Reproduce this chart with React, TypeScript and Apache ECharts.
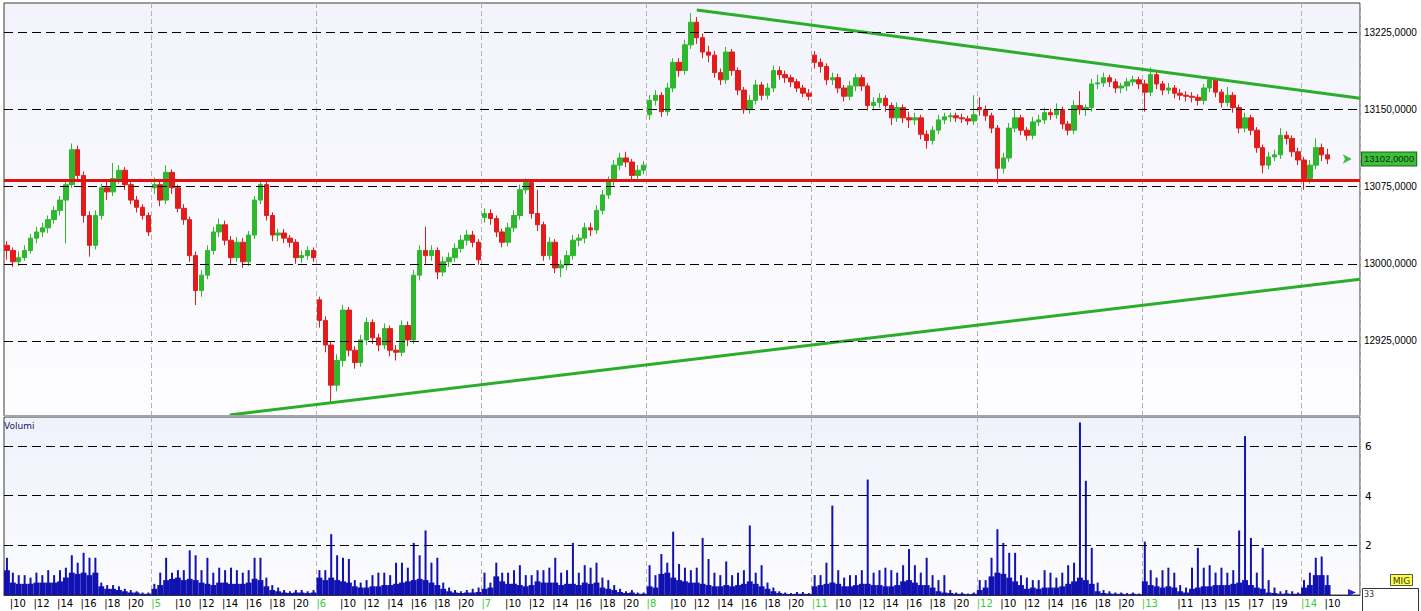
import React, { useEffect, useRef } from 'react';
import * as echarts from 'echarts';

const FONT = '"DejaVu Sans", Verdana, sans-serif';
const AXIS_FONT = '"Liberation Sans", Arial, sans-serif';

// Trading sessions (half-hour slots)
const SESSION_DAYS = ['4', '5', '6', '7', '8', '11', '12', '13', '14'];
const SESSION_FIRST_HOUR = [9.5, 8, 8, 8, 8, 8, 8, 8, 8];
const SESSION_SLOTS = [25, 28, 28, 28, 28, 28, 28, 27, 10];
const SESSION_HOUR_LABELS = [
  [10, 12, 14, 16, 18, 20],
  [10, 12, 14, 16, 18, 20],
  [10, 12, 14, 16, 18, 20],
  [10, 12, 14, 16, 18, 20],
  [10, 12, 14, 16, 18, 20],
  [10, 12, 14, 16, 18, 20],
  [10, 12, 14, 16, 18, 20],
  [11, 13, 15, 17, 19],
  [10],
];

const PRICE_TICKS = [12925, 13000, 13075, 13150, 13225];
const VOLUME_TICKS = [2, 4, 6];
const SUPPORT_LEVEL = 13081;
const LAST_PRICE = 13102;
const LAST_PRICE_LABEL = '13102,0000';
// trend lines: [slot position, price]
const UPPER_TREND = [[117, 13247], [229.5, 13161]];
const LOWER_TREND = [[37.8, 12853], [229.5, 12985]];

// candles: [open, close, low, high]
const candlesDay4 = [
  [13018,13013,13004,13022],[13013,13002,12997,13016],[13002,13006,12998,13012],[13006,13013,13003,13018],
  [13013,13025,13010,13029],[13025,13031,13020,13036],[13031,13035,13026,13040],[13035,13043,13030,13047],
  [13043,13052,13039,13056],[13052,13062,13047,13066],[13062,13077,13020,13081],[13077,13111,13074,13117],
  [13111,13086,13080,13115],[13086,13047,13040,13090],[13047,13018,13007,13051],[13018,13047,13014,13052],
  [13047,13074,13043,13078],[13074,13070,13062,13080],[13070,13083,13066,13098],[13083,13091,13078,13096],
  [13091,13077,13072,13094],[13077,13062,13058,13080],[13062,13055,13050,13066],[13055,13047,13043,13058],
  [13047,13031,13027,13050],
];
const candlesDay5 = [
  [13074,13077,13068,13084],[13077,13062,13056,13081],[13062,13089,13058,13096],[13089,13074,13068,13092],
  [13074,13054,13050,13077],[13054,13043,13038,13058],[13043,13008,13002,13046],[13008,12974,12960,13012],
  [12974,12989,12968,12994],[12989,13013,12985,13018],[13013,13031,13009,13036],[13031,13038,13026,13044],
  [13038,13023,13018,13042],[13023,13006,13000,13027],[13006,13021,13002,13026],[13021,13002,12996,13025],
  [13002,13028,12998,13032],[13028,13062,13024,13066],[13062,13077,13058,13082],[13077,13047,13042,13080],
  [13047,13028,13022,13050],[13028,13030,13022,13034],[13030,13025,13020,13034],[13025,13021,13016,13028],
  [13021,13006,13000,13024],[13006,13008,13001,13013],[13008,13013,13004,13017],[13013,13006,13002,13016],
];
const candlesDay6 = [
  [12965,12945,12938,12968],[12945,12921,12914,12949],[12921,12882,12865,12925],[12882,12906,12876,12912],
  [12906,12955,12900,12960],[12955,12916,12910,12958],[12916,12904,12898,12920],[12904,12926,12900,12931],
  [12926,12943,12921,12948],[12943,12928,12922,12946],[12928,12921,12915,12932],[12921,12937,12917,12942],
  [12937,12916,12910,12940],[12916,12914,12906,12921],[12914,12940,12910,12945],[12940,12926,12920,12944],
  [12926,12989,12922,12994],[12989,13013,12984,13018],[13013,13008,13000,13036],[13008,13013,13003,13018],
  [13013,12992,12985,13016],[12992,13002,12988,13007],[13002,13006,12997,13011],[13006,13015,13002,13020],
  [13015,13023,13011,13028],[13023,13028,13018,13033],[13028,13021,13016,13032],[13021,13004,12999,13024],
];
const candlesDay7 = [
  [13045,13049,13040,13054],[13049,13044,13038,13053],[13044,13031,13026,13047],[13031,13021,13016,13034],
  [13021,13035,13017,13040],[13035,13047,13031,13052],[13047,13072,13043,13077],[13072,13079,13068,13083],
  [13079,13049,13044,13082],[13049,13038,13032,13072],[13038,13008,13003,13041],[13008,13021,13004,13026],
  [13021,12996,12991,13024],[12996,12999,12987,13004],[12999,13008,12994,13013],[13008,13023,13004,13028],
  [13023,13025,13017,13029],[13025,13035,13020,13040],[13035,13033,13027,13040],[13033,13052,13029,13057],
  [13052,13067,13048,13072],[13067,13080,13063,13085],[13080,13096,13076,13101],[13096,13103,13091,13108],
  [13103,13099,13094,13109],[13099,13086,13081,13102],[13086,13091,13082,13096],[13091,13096,13087,13100],
];
const candlesDay8 = [
  [13145,13159,13140,13164],[13159,13164,13154,13169],[13164,13148,13143,13167],[13148,13171,13144,13176],
  [13171,13196,13167,13200],[13196,13188,13182,13200],[13188,13213,13184,13218],[13213,13235,13209,13244],
  [13235,13220,13214,13240],[13220,13206,13200,13224],[13206,13203,13196,13212],[13203,13186,13181,13207],
  [13186,13179,13174,13190],[13179,13206,13175,13211],[13206,13188,13183,13209],[13188,13169,13164,13191],
  [13169,13150,13146,13172],[13150,13159,13146,13164],[13159,13174,13155,13179],[13174,13164,13159,13177],
  [13164,13171,13160,13176],[13171,13188,13167,13193],[13188,13184,13179,13192],[13184,13181,13176,13188],
  [13181,13177,13172,13184],[13177,13171,13167,13180],[13171,13166,13162,13174],[13166,13163,13159,13170],
];
const candlesDay11 = [
  [13203,13196,13190,13207],[13196,13192,13186,13200],[13192,13179,13174,13195],[13179,13181,13174,13186],
  [13181,13171,13166,13185],[13171,13163,13158,13174],[13163,13173,13159,13178],[13173,13181,13168,13185],
  [13181,13173,13168,13184],[13173,13154,13149,13176],[13154,13157,13149,13162],[13157,13161,13152,13166],
  [13161,13154,13148,13164],[13154,13142,13135,13157],[13142,13152,13138,13157],[13152,13142,13137,13155],
  [13142,13140,13132,13148],[13140,13142,13135,13147],[13142,13126,13121,13145],[13126,13120,13112,13130],
  [13120,13130,13116,13134],[13130,13140,13126,13145],[13140,13143,13136,13147],[13143,13144,13138,13147],
  [13144,13142,13138,13147],[13142,13141,13137,13146],[13141,13139,13135,13144],[13139,13145,13135,13164],
];
const candlesDay12 = [
  [13152,13150,13144,13162],[13150,13144,13139,13154],[13144,13132,13127,13147],[13132,13093,13078,13135],
  [13093,13103,13088,13108],[13103,13132,13099,13137],[13132,13142,13128,13151],[13142,13130,13125,13145],
  [13130,13125,13120,13133],[13125,13138,13121,13143],[13138,13140,13134,13145],[13140,13147,13136,13152],
  [13147,13145,13140,13151],[13145,13150,13141,13156],[13150,13136,13131,13153],[13136,13130,13125,13139],
  [13130,13154,13126,13159],[13154,13150,13145,13168],[13150,13152,13144,13155],[13152,13175,13148,13180],
  [13175,13176,13170,13184],[13176,13181,13172,13186],[13181,13177,13172,13184],[13177,13171,13166,13180],
  [13171,13173,13166,13176],[13173,13177,13168,13181],[13177,13179,13173,13183],[13179,13175,13170,13182],
];
const candlesDay13 = [
  [13175,13167,13148,13179],[13167,13184,13163,13191],[13184,13175,13170,13187],[13175,13169,13164,13178],
  [13169,13171,13165,13176],[13171,13166,13161,13174],[13166,13164,13159,13170],[13164,13163,13158,13168],
  [13163,13162,13157,13167],[13162,13159,13154,13165],[13159,13171,13155,13175],[13171,13179,13167,13182],
  [13179,13167,13162,13181],[13167,13157,13152,13170],[13157,13164,13153,13172],[13164,13152,13147,13167],
  [13152,13132,13127,13155],[13132,13142,13128,13147],[13142,13130,13125,13145],[13130,13113,13108,13133],
  [13113,13096,13088,13116],[13096,13104,13092,13109],[13104,13106,13100,13111],[13106,13125,13102,13132],
  [13125,13122,13116,13129],[13122,13109,13104,13125],[13109,13101,13096,13113],
];
const candlesDay14 = [
  [13101,13083,13072,13104],[13083,13096,13078,13101],[13096,13113,13092,13122],[13113,13106,13100,13117],
  [13106,13102,13097,13112],
];

// volume per slot: typical level and peak spike
const volumeBase = [
  1.0,0.5,0.45,0.45,0.45,0.5,0.5,0.5,0.5,0.55,0.7,0.9,0.85,0.9,0.8,0.9,0.35,0.25,0.25,0.2,0.15,0.1,0.1,0.05,0.05,
  0.25,0.4,0.6,0.65,0.7,0.6,0.65,0.6,0.5,0.45,0.4,0.5,0.5,0.45,0.45,0.45,0.5,0.65,0.6,0.35,0.2,0.15,0.1,0.08,0.1,0.1,0.08,0.1,
  0.7,0.6,0.7,0.6,0.55,0.5,0.35,0.3,0.3,0.35,0.35,0.4,0.4,0.45,0.5,0.55,0.6,0.65,0.6,0.5,0.4,0.25,0.15,0.1,0.08,0.1,0.1,0.12,
  0.25,0.3,0.75,0.55,0.45,0.45,0.4,0.35,0.4,0.55,0.5,0.5,0.5,0.4,0.45,0.45,0.4,0.5,0.45,0.5,0.3,0.25,0.2,0.12,0.08,0.1,0.05,0.05,
  0.35,0.3,0.85,0.9,0.7,0.6,0.55,0.5,0.5,0.45,0.4,0.35,0.35,0.4,0.35,0.4,0.45,0.55,0.45,0.35,0.25,0.15,0.08,0.05,0.04,0.05,0.05,0.04,
  0.35,0.4,0.45,0.5,0.45,0.35,0.35,0.4,0.45,0.45,0.4,0.4,0.35,0.35,0.4,0.55,0.6,0.5,0.4,0.4,0.3,0.15,0.1,0.08,0.05,0.05,0.03,0.05,
  0.2,0.3,0.75,0.9,0.85,0.7,0.55,0.4,0.25,0.3,0.25,0.3,0.3,0.3,0.35,0.45,0.55,0.7,0.6,0.45,0.15,0.08,0.06,0.05,0.05,0.03,0.05,0.03,
  0.55,0.4,0.35,0.3,0.35,0.3,0.15,0.1,0.25,0.3,0.35,0.35,0.4,0.4,0.4,0.45,0.5,0.6,0.4,0.3,0.25,0.1,0.08,0.05,0.06,0.05,0.05,
  0.3,0.4,0.8,0.8,0.4,
];
const volumePeak = [
  1.5,0.9,0.8,0.8,0.7,0.9,0.8,1.0,0.8,1.0,1.1,1.6,1.3,1.7,1.5,1.5,0.5,0.4,0.4,0.35,0.25,0.2,0.15,0.1,0.1,
  0.45,0.9,1.5,0.9,1.0,1.0,1.8,1.6,1.0,1.5,0.9,1.1,1.0,1.1,1.0,0.9,1.0,1.5,1.5,0.7,0.4,0.3,0.2,0.15,0.2,0.2,0.15,0.2,
  1.0,1.0,2.45,1.6,1.5,1.45,0.6,0.5,0.6,0.8,0.9,0.9,0.8,1.3,1.3,1.1,2.1,1.6,2.6,1.3,1.5,0.5,0.3,0.2,0.15,0.2,0.25,0.3,
  0.9,0.5,1.3,0.9,0.9,1.0,1.2,0.8,0.8,1.0,1.0,1.1,1.5,0.9,1.0,2.1,0.9,1.2,1.1,1.3,0.7,0.6,0.4,0.25,0.15,0.2,0.1,0.1,
  1.2,0.8,1.65,1.3,2.55,1.25,1.1,1.0,1.1,2.3,1.45,0.9,0.8,1.35,0.8,0.9,1.0,2.8,0.9,1.2,0.5,0.3,0.15,0.1,0.08,0.12,0.12,0.08,
  0.8,0.8,1.3,3.6,1.0,0.7,0.8,0.8,1.0,4.65,0.9,1.0,1.1,1.0,0.9,1.2,1.85,1.2,0.9,1.5,0.8,0.6,0.8,0.2,0.1,0.1,0.06,0.1,
  0.6,0.6,1.5,2.65,2.1,1.7,1.7,0.8,0.7,0.6,0.6,1.0,0.9,0.7,0.9,1.2,1.3,6.95,4.6,1.9,0.5,0.2,0.15,0.1,0.1,0.08,0.1,0.06,
  2.15,1.0,0.7,1.0,1.1,0.9,0.4,0.3,1.1,1.9,1.1,1.2,0.9,1.1,0.9,1.0,2.6,6.4,2.3,0.9,1.9,0.6,0.3,0.15,0.2,0.15,0.1,
  0.6,0.9,1.5,1.55,0.8,
];

const candles = [
  ...candlesDay4, ...candlesDay5, ...candlesDay6, ...candlesDay7, ...candlesDay8,
  ...candlesDay11, ...candlesDay12, ...candlesDay13, ...candlesDay14,
];

function buildAxisCategories() {
  const categories: string[] = [];
  const labels: string[] = [];
  const dayStarts = new Set<number>();
  SESSION_DAYS.forEach((day, di) => {
    const start = categories.length;
    if (di > 0) dayStarts.add(start);
    for (let k = 0; k < SESSION_SLOTS[di]; k++) {
      const h = SESSION_FIRST_HOUR[di] + k * 0.5;
      const hh = Math.floor(h);
      const half = h - hh > 0;
      categories.push(`${day} ${hh}:${half ? '30' : '00'}`);
      let lab = '';
      if (k === 0 && di > 0) lab = `{d||${day}}`;
      else if (!half && SESSION_HOUR_LABELS[di].includes(hh)) lab = `{h||${hh}}`;
      labels.push(lab);
    }
  });
  return { categories, labels, dayStarts };
}

function buildOption() {
  const { categories, labels, dayStarts } = buildAxisCategories();
  const N = categories.length;
  const daySplit = {
    show: true,
    interval: (i: number) => dayStarts.has(i),
    lineStyle: { color: '#B4B4B8', type: [5, 3], width: 1 },
  };
  const bgPrice = new echarts.graphic.LinearGradient(0, 0, 0, 1, [
    { offset: 0, color: '#F3F3FC' },
    { offset: 1, color: '#FDFDFF' },
  ]);
  const bgVol = new echarts.graphic.LinearGradient(0, 0, 0, 1, [
    { offset: 0, color: '#EFF2FB' },
    { offset: 1, color: '#FCFCFF' },
  ]);
  const dash = { color: '#000', type: [9, 5] as number[], width: 1 };

  return {
    animation: false,
    backgroundColor: '#FFFFFF',
    grid: [
      { left: 4, top: 3, width: 1356, height: 413, show: true, borderColor: '#3A3A3A', borderWidth: 1, backgroundColor: bgPrice, outerBoundsMode: 'none' },
      { left: 4, top: 417, width: 1356, height: 178, show: true, borderColor: '#3A3A3A', borderWidth: 1, backgroundColor: bgVol, outerBoundsMode: 'none' },
    ],
    xAxis: [
      {
        type: 'category', gridIndex: 0, data: categories, boundaryGap: true,
        axisLine: { show: false }, axisTick: { show: false }, axisLabel: { show: false },
        splitLine: daySplit,
      },
      {
        type: 'category', gridIndex: 1, data: categories, boundaryGap: true,
        axisLine: { show: true, lineStyle: { color: '#333', width: 1 } },
        axisTick: { show: false },
        axisLabel: {
          show: true,
          interval: (i: number) => labels[i] !== '',
          formatter: (_v: string, i: number) => labels[i],
          align: 'left',
          margin: 3,
          padding: [0, 0, 0, -3],
          rich: {
            d: { color: '#3CC83C', fontSize: 10, fontFamily: FONT },
            h: { color: '#000000', fontSize: 10, fontFamily: FONT },
          },
        },
        splitLine: daySplit,
      },
      { type: 'value', gridIndex: 0, min: -0.5, max: N - 0.5, show: false },
      { type: 'category', gridIndex: 1, data: categories, boundaryGap: true, show: false },
    ],
    yAxis: [
      { type: 'value', gridIndex: 0, min: 12852, max: 13253.7, show: false, scale: true },
      { type: 'value', gridIndex: 1, min: 0, max: 7.17, show: false },
    ],
    series: [
      {
        type: 'candlestick',
        xAxisIndex: 0, yAxisIndex: 0,
        data: candles,
        barWidth: 5,
        itemStyle: {
          color: '#2DB82D', color0: '#E41B1B',
          borderColor: '#2DB82D', borderColor0: '#E41B1B', borderWidth: 1,
        },
        markLine: {
          silent: true, symbol: 'none', animation: false,
          data: [
            ...PRICE_TICKS.map((v) => ({
              yAxis: v,
              lineStyle: dash,
              label: { show: true, position: 'end', distance: 4, formatter: `${v},0000`, color: '#000', fontSize: 10, fontFamily: AXIS_FONT },
            })),
            {
              yAxis: SUPPORT_LEVEL,
              lineStyle: { color: '#E01414', width: 3, type: 'solid' },
              label: { show: false },
            },
            {
              yAxis: LAST_PRICE,
              lineStyle: { color: 'rgba(0,0,0,0)', width: 1, type: 'solid' },
              label: {
                show: true, position: 'end', distance: 2, formatter: LAST_PRICE_LABEL,
                backgroundColor: '#3CC03C', borderColor: '#1E5E1E', borderWidth: 1,
                padding: [2, 2, 1, 2], color: '#0E2E0E', fontSize: 9.5, fontFamily: AXIS_FONT,
              },
            },
          ],
        },
        z: 2,
      },
      {
        type: 'line', xAxisIndex: 2, yAxisIndex: 0,
        data: UPPER_TREND, showSymbol: false, symbol: 'none',
        lineStyle: { color: '#2AAE2A', width: 3 },
        z: 4,
        markPoint: {
          silent: true,
          data: [{ coord: [228.1, LAST_PRICE], symbol: 'arrow', symbolSize: [7, 9], symbolRotate: -90, itemStyle: { color: '#3DBB3D' }, label: { show: false } }],
        },
      },
      {
        type: 'line', xAxisIndex: 2, yAxisIndex: 0,
        data: LOWER_TREND, showSymbol: false, symbol: 'none',
        lineStyle: { color: '#2AAE2A', width: 3 },
        z: 4,
      },
      {
        type: 'bar', xAxisIndex: 1, yAxisIndex: 1,
        data: volumeBase, barCategoryGap: '0%',
        itemStyle: { color: '#1212B2' },
        markLine: {
          silent: true, symbol: 'none', animation: false,
          data: VOLUME_TICKS.map((v) => ({
            yAxis: v,
            lineStyle: dash,
            label: { show: true, position: 'end', distance: 5, formatter: `${v}`, color: '#000', fontSize: 10.5, fontFamily: FONT },
          })),
        },
      },
      {
        type: 'bar', xAxisIndex: 3, yAxisIndex: 1,
        data: volumePeak, barWidth: 2,
        itemStyle: { color: '#1212B2' },
      },
    ],
    graphic: [
      { type: 'rect', shape: { x: 4, y: 415, width: 1356, height: 2 }, style: { fill: '#A4A4A4' }, z: 100, silent: true },
      { type: 'text', x: 4, y: 421, style: { text: 'Volumi', fill: '#14145E', font: `9px ${FONT}` }, z: 100, silent: true },
      { type: 'polygon', shape: { points: [[1348, 589], [1356, 592.5], [1348, 596]] }, style: { fill: '#2424CC' }, z: 100, silent: true },
      { type: 'rect', shape: { x: 1390.5, y: 574.5, width: 22, height: 11 }, style: { fill: '#FFFF3C', stroke: '#555', lineWidth: 1 }, z: 100, silent: true },
      { type: 'text', x: 1401.5, y: 580.5, style: { text: 'MIG', fill: '#333', font: `9px ${FONT}`, align: 'center', verticalAlign: 'middle', textAlign: 'center', textVerticalAlign: 'middle' }, z: 101, silent: true },
      { type: 'rect', shape: { x: 1362.5, y: 588.5, width: 56, height: 30 }, style: { fill: '#FFFFFF', stroke: '#333', lineWidth: 1 }, z: 100, silent: true },
      { type: 'text', x: 1364, y: 590, style: { text: '33', fill: '#333', font: `8px ${FONT}` }, z: 101, silent: true },
    ],
  };
}

export default function App() {
  const ref = useRef<HTMLDivElement>(null);
  useEffect(() => {
    if (!ref.current) return;
    const chart = echarts.init(ref.current, undefined, { renderer: 'svg' });
    chart.setOption(buildOption() as any);
    return () => chart.dispose();
  }, []);
  return <div ref={ref} style={{ position: 'absolute', left: 0, top: 0, width: 1421, height: 611 }} />;
}
